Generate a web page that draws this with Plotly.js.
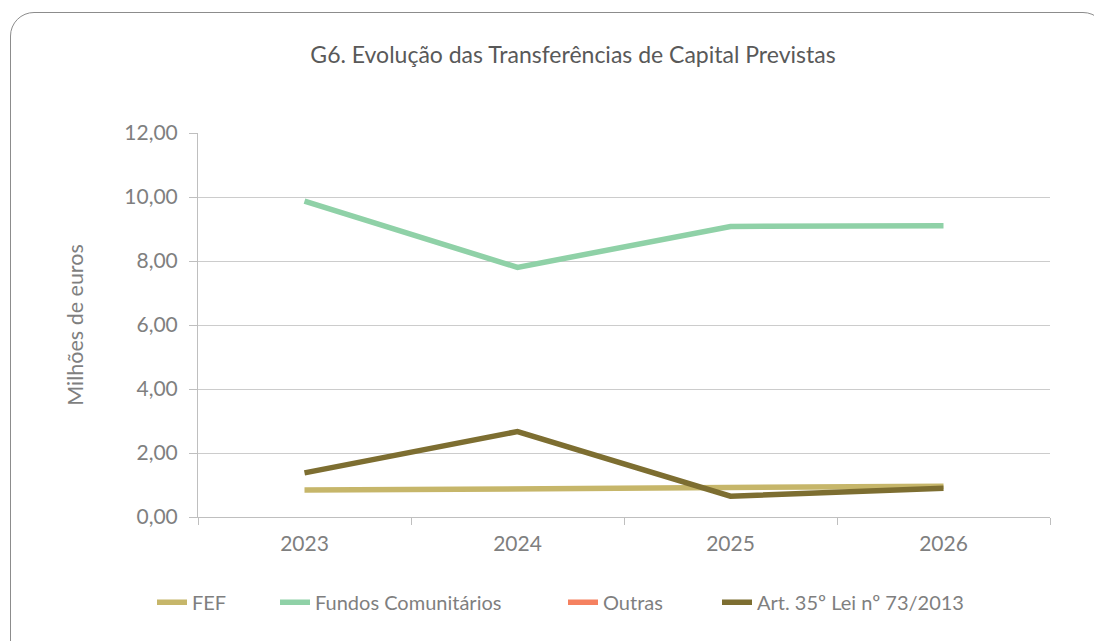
<!DOCTYPE html>
<html>
<head>
<meta charset="utf-8">
<script src="https://cdn.plot.ly/plotly-3.0.1.min.js"></script>
<style>
  html, body { margin: 0; padding: 0; background: #fff; overflow: hidden; }
  #frame { position: absolute; left: 10px; top: 12px; width: 1095px; height: 680px;
           border: 1.5px solid #8c8c8c; border-radius: 24px; }
  #chart { position: absolute; left: 0; top: 0; width: 1094px; height: 641px; }
</style>
</head>
<body>
<div id="frame"></div>
<div id="chart"></div>
<script>
const years = ['2023', '2024', '2025', '2026'];
const fef = [0.84, 0.88, 0.93, 0.96];
const fundos = [9.87, 7.80, 9.08, 9.10];
const outras = [null, null, null, null];
const art35 = [1.38, 2.67, 0.65, 0.90];
const yTicks = [0, 2, 4, 6, 8, 10, 12];

const font = 'Lato, "Open Sans", sans-serif';
const grey = '#7f7f7f';
function tr(name, y, color, leg) {
  return { x: years, y: y, name: name, type: 'scatter', mode: 'lines',
           line: { color: color, width: 5.5 }, hoverinfo: 'none', legend: leg };
}
const data = [
  tr('FEF', fef, '#C6B66A', 'legend'),
  tr('Fundos Comunitários', fundos, '#8FD1A7', 'legend2'),
  tr('Outras', outras, '#F58160', 'legend3'),
  tr('Art. 35º Lei nº 73/2013', art35, '#7D6E31', 'legend4')
];
function leg(px) {
  return { orientation: 'h', x: (px - 198) / 852, xanchor: 'left', y: -0.222, yanchor: 'middle',
           font: { size: 20, color: grey, family: font }, bgcolor: 'rgba(0,0,0,0)' };
}
const layout = {
  width: 1094, height: 641,
  paper_bgcolor: 'rgba(0,0,0,0)', plot_bgcolor: 'rgba(0,0,0,0)',
  margin: { l: 198, r: 44, t: 133, b: 124 },
  separators: ', ',
  font: { family: font, color: grey, size: 20 },
  title: { text: 'G6. Evolução das Transferências de Capital Previstas',
           x: 573 / 1094, xref: 'container', xanchor: 'center', y: 1 - 55 / 641, yref: 'container',
           yanchor: 'middle',
           font: { family: font, size: 23, color: '#595959' } },
  xaxis: { type: 'category', tickson: 'boundaries', ticks: 'outside', ticklen: 7,
           tickcolor: '#bfbfbf', showline: true, linecolor: '#bfbfbf', linewidth: 1,
           showgrid: false, zeroline: false, range: [-0.5, 3.5], ticklabelstandoff: 8,
           tickfont: { size: 21, color: grey } },
  yaxis: { range: [0, 12], tickvals: yTicks, tickformat: '.2f', ticks: 'outside', ticklen: 8,
           tickcolor: '#bfbfbf', showline: true, linecolor: '#bfbfbf', linewidth: 1,
           gridcolor: '#cccccc', gridwidth: 1, zeroline: false, ticklabelstandoff: 7,
           tickfont: { size: 21, color: grey } ,
           title: { text: 'Milhões de euros', standoff: 34, font: { size: 21.5, color: grey } } },
  legend: leg(152),
  legend2: leg(275),
  legend3: leg(563),
  legend4: leg(717),
  showlegend: true
};
Plotly.newPlot('chart', data, layout, { staticPlot: true, displayModeBar: false });
</script>
</body>
</html>
